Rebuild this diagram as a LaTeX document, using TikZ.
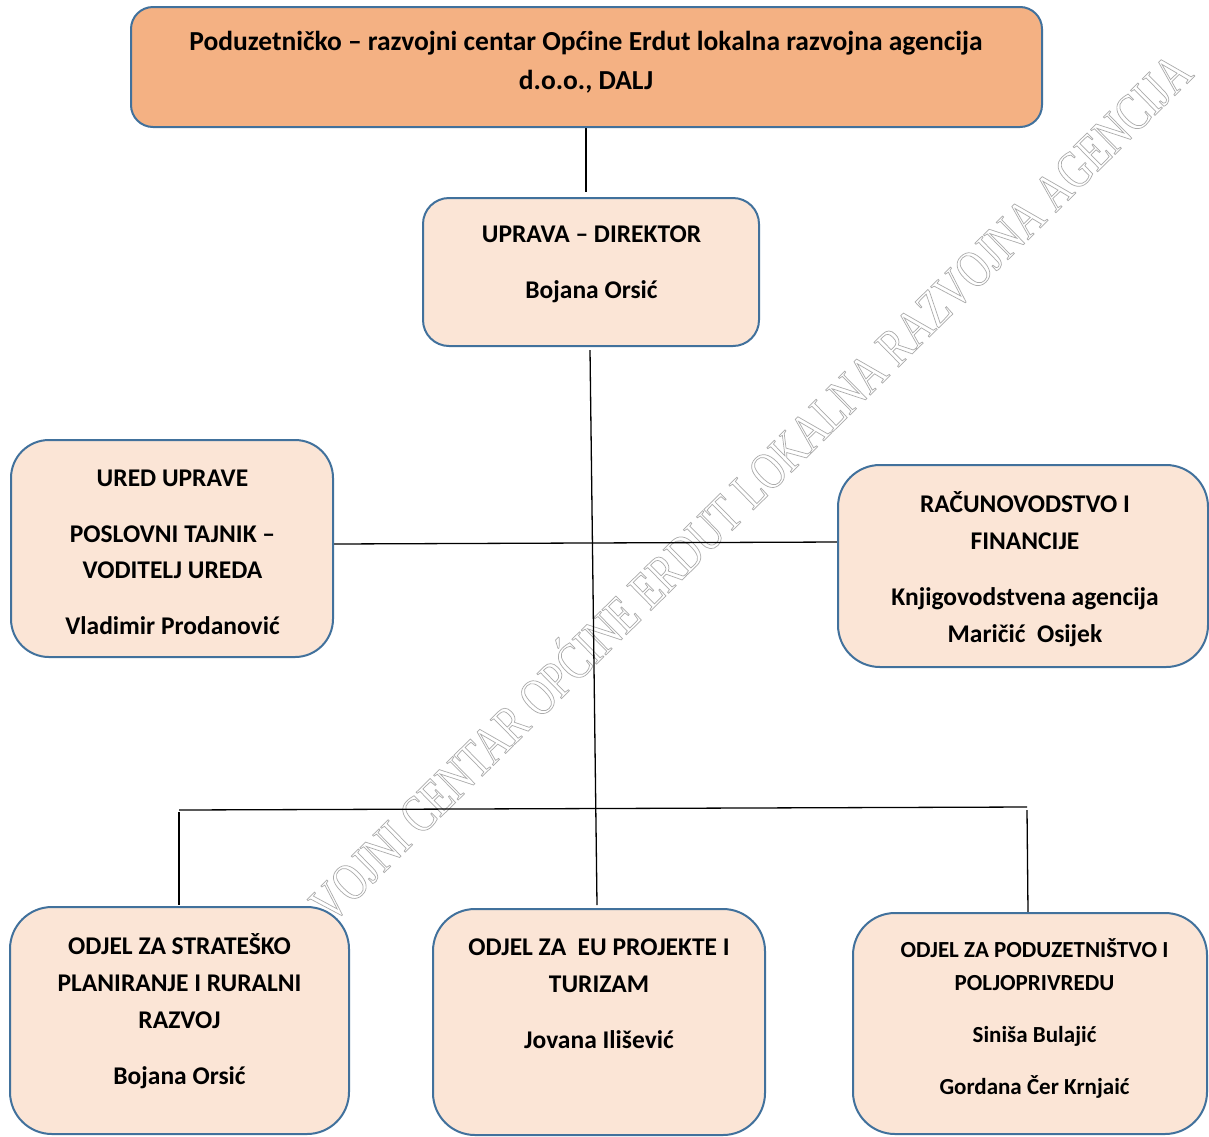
\documentclass[tikz,border=0pt]{standalone}
\usepackage{fontspec}
\setmainfont{Carlito}
\newfontfamily\wmfont[FakeStretch=0.75]{Liberation Serif}
\definecolor{titlefill}{HTML}{F4B183}
\definecolor{boxfill}{HTML}{FBE5D6}
\definecolor{boxline}{HTML}{41719C}
\definecolor{wmgray}{HTML}{ABABAB}
\newcommand\outlinetext[1]{\special{pdf:literal direct 1 Tr 0.7 w}#1\special{pdf:literal direct 0 Tr}}
\begin{document}
\begin{tikzpicture}[x=1pt,y=-1pt,
  orgbox/.style={draw=boxline, line width=2pt, fill=boxfill, inner sep=0pt},
  conn/.style={draw=black, line width=1.3pt},
  txt/.style={font=\bfseries\fontsize{25.5}{30}\selectfont, inner sep=0pt, anchor=base},
  txtsmall/.style={font=\bfseries\fontsize{23}{27}\selectfont, inner sep=0pt, anchor=base},
  txttitle/.style={font=\bfseries\fontsize{27.5}{32}\selectfont, inner sep=0pt, anchor=base}]
\useasboundingbox (0,0) rectangle (1209,1136);
\fill[white] (0,0) rectangle (1209,1136);

% watermark
\node[rotate=44.5, anchor=base west, inner sep=0pt, text=wmgray,
      font=\wmfont\fontsize{53.4}{54}\selectfont] (wm) at (331,925)
      {\outlinetext{VOJNI CENTAR OPĆINE ERDUT LOKALNA RAZVOJNA AGENCIJA}};

% connector coordinates
\coordinate (t1) at (586,127);
\coordinate (t2) at (586,192);
\coordinate (v1) at (590,350);
\coordinate (v2) at (597,905);
\coordinate (h1) at (333,544);
\coordinate (h2) at (838,542);
\coordinate (b1) at (179,810);
\coordinate (b2) at (1027,807);
\coordinate (l1) at (179,812);
\coordinate (l2) at (179,905);
\coordinate (r1) at (1027,810);
\coordinate (r2) at (1028,912);

\draw[conn] (t1) -- (t2);
\draw[conn] (v1) -- (v2);
\draw[conn] (h1) -- (h2);
\draw[conn] (b1) -- (b2);
\draw[conn] (l1) -- (l2);
\draw[conn] (r1) -- (r2);

% boxes
\node[orgbox, fill=titlefill, minimum width=911pt, minimum height=120pt, rounded corners=22pt] (title) at (586.5,67) {};
\node[orgbox, minimum width=336pt, minimum height=148pt, rounded corners=26pt] (uprava) at (591,272) {};
\node[orgbox, minimum width=322pt, minimum height=217pt, rounded corners=38pt] (ured) at (172,548.5) {};
\node[orgbox, minimum width=370pt, minimum height=202pt, rounded corners=42pt] (racun) at (1023,566) {};
\node[orgbox, minimum width=339pt, minimum height=227pt, rounded corners=42pt] (bl) at (179.5,1020.5) {};
\node[orgbox, minimum width=332pt, minimum height=226pt, rounded corners=42pt] (bm) at (599,1022) {};
\node[orgbox, minimum width=354pt, minimum height=221pt, rounded corners=42pt] (br) at (1030,1023.5) {};

% texts
\node[txttitle] (tt1) at (586,50) {Poduzetničko – razvojni centar Općine Erdut lokalna razvojna agencija};
\node[txttitle] (tt2) at (586,89) {d.o.o., DALJ};

\node[txt] (u1) at (591.5,242) {UPRAVA – DIREKTOR};
\node[txt] (u2) at (591.5,298) {Bojana Orsić};

\node[txt] (o1) at (172.5,486) {URED UPRAVE};
\node[txt] (o2) at (172.5,542) {POSLOVNI TAJNIK –};
\node[txt] (o3) at (172.5,578) {VODITELJ UREDA};
\node[txt] (o4) at (172.5,634) {Vladimir Prodanović};

\node[txt] (r1t) at (1025,512) {RAČUNOVODSTVO I};
\node[txt] (r2t) at (1025,549) {FINANCIJE};
\node[txt] (r3t) at (1025,605) {Knjigovodstvena agencija};
\node[txt] (r4t) at (1025,642) {Maričić\ \ Osijek};

\node[txt] (s1) at (179.5,954) {ODJEL ZA STRATEŠKO};
\node[txt] (s2) at (179.5,991) {PLANIRANJE I RURALNI};
\node[txt] (s3) at (179.5,1028) {RAZVOJ};
\node[txt] (s4) at (179.5,1084) {Bojana Orsić};

\node[txt] (e1) at (599,955) {ODJEL ZA\ \ EU PROJEKTE I};
\node[txt] (e2) at (599,992) {TURIZAM};
\node[txt] (e3) at (599,1048) {Jovana Ilišević};

\node[txtsmall] (p1) at (1034.5,957) {ODJEL ZA PODUZETNIŠTVO I};
\node[txtsmall] (p2) at (1034.5,990) {POLJOPRIVREDU};
\node[txtsmall] (p3) at (1034.5,1042) {Siniša Bulajić};
\node[txtsmall] (p4) at (1034.5,1094) {Gordana Čer Krnjaić};
\end{tikzpicture}
\end{document}
